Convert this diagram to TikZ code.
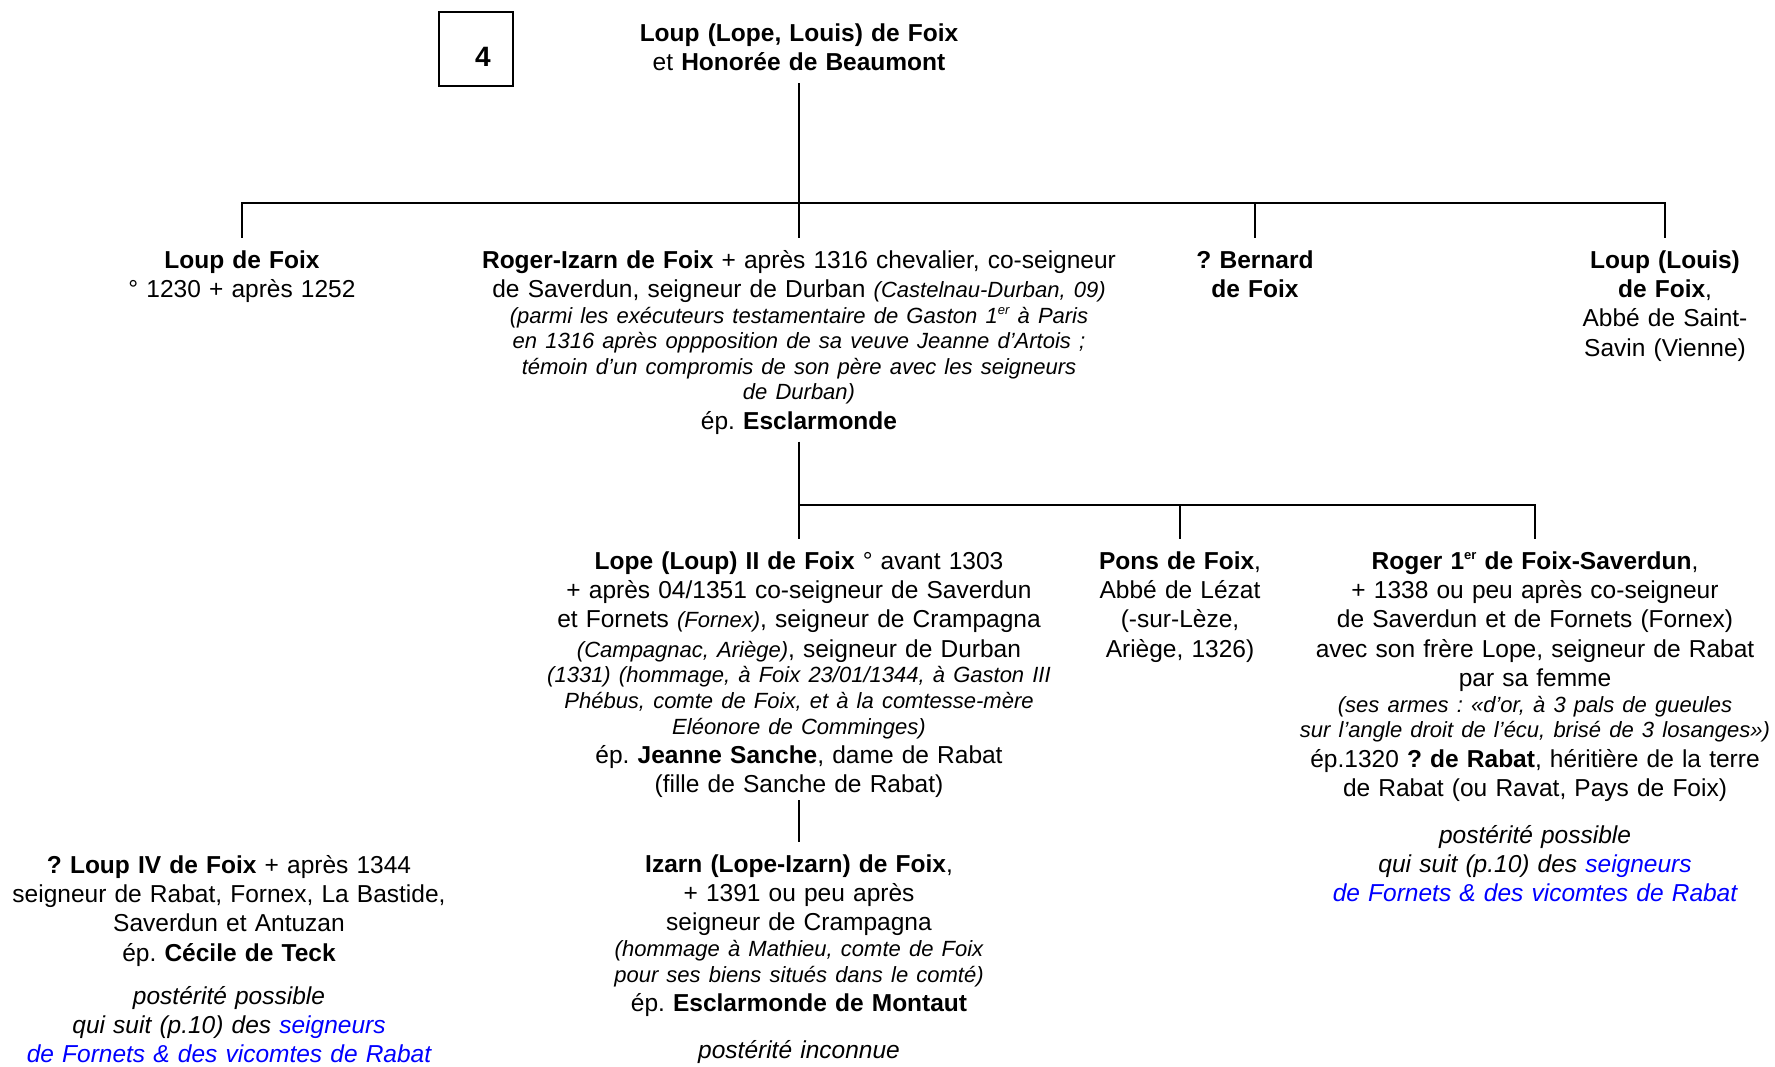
\documentclass[tikz,border=0pt]{standalone}
\usepackage{fontspec}
\setmainfont{Liberation Sans}
\usepackage{xcolor}
\newcommand{\mainsz}{\fontsize{12.25}{14.7}\selectfont\frenchspacing}
\newcommand{\notesz}{\fontsize{11}{12.8}\selectfont\itshape}
\newcommand{\ordsup}[1]{\raisebox{0.75ex}{\fontsize{6.5}{7}\selectfont #1}}
\tikzset{
  person/.style={anchor=base,text width=380pt,align=center,inner xsep=0pt,inner ysep=6pt,font=\mainsz},
  desc/.style={person,font=\mainsz\itshape},
  tree/.style={line width=1.1pt}
}

\begin{document}
\frenchspacing
\begin{tikzpicture}[x=0.5pt,y=-0.5pt]
\useasboundingbox (0,0) rectangle (1775,1066);

\node [draw,line width=0.6pt,minimum width=37pt,minimum height=37pt] (numbox) at (476,49) {};
\node [font=\fontsize{14}{16}\selectfont\bfseries] (num) at ([xshift=3.5pt,yshift=-4pt]numbox.center) {4};

\node [person] (parents) at (799,41) {\textbf{Loup (Lope, Louis) de Foix}\\ et \textbf{Honorée de Beaumont}};

% children
\node [person] (loup) at (242,268) {\textbf{Loup de Foix}\\ ° 1230 + après 1252};
\node [person] (rogerizarn) at (799,268) {\textbf{Roger-Izarn de Foix} + après 1316 chevalier, co-seigneur\\
de Saverdun, seigneur de Durban {\notesz(Castelnau-Durban, 09)}\par
{\notesz(parmi les exécuteurs testamentaire de Gaston 1\ordsup{er} à Paris\\
en 1316 après oppposition de sa veuve Jeanne d’Artois ;\\
témoin d’un compromis de son père avec les seigneurs\\
de Durban)\par}
ép. \textbf{Esclarmonde}};
\node [person] (bernard) at (1255,268) {\textbf{? Bernard}\\ \textbf{de Foix}};
\node [person] (loupabbe) at (1665,268) {\textbf{Loup (Louis)}\\ \textbf{de Foix},\\ Abbé de Saint-\\ Savin (Vienne)};

\coordinate (j0) at (799,203);
\draw [tree] (parents.south) -- (j0);
\draw [tree] (loup.north) -- (loup.north |- j0) -- (loupabbe.north |- j0) -- (loupabbe.north);
\draw [tree] (rogerizarn.north) -- (rogerizarn.north |- j0);
\draw [tree] (bernard.north) -- (bernard.north |- j0);

% grandchildren
\node [person] (lope) at (799,569) {\textbf{Lope (Loup) II de Foix} ° avant 1303\\
+ après 04/1351 co-seigneur de Saverdun\\
et Fornets {\notesz(Fornex)}, seigneur de Crampagna\\
{\notesz(Campagnac, Ariège)}, seigneur de Durban\par
{\notesz(1331) (hommage, à Foix 23/01/1344, à Gaston III\\
Phébus, comte de Foix, et à la comtesse-mère\\
Eléonore de Comminges)\par}
ép. \textbf{Jeanne Sanche}, dame de Rabat\\
(fille de Sanche de Rabat)};
\node [person] (pons) at (1180,569) {\textbf{Pons de Foix},\\ Abbé de Lézat\\ (-sur-Lèze,\\ Ariège, 1326)};
\node [person] (roger) at (1535,569) {\textbf{Roger 1\ordsup{er} de Foix-Saverdun},\\
+ 1338 ou peu après co-seigneur\\
de Saverdun et de Fornets (Fornex)\\
avec son frère Lope, seigneur de Rabat\\
par sa femme\par
{\notesz(ses armes : «d’or, à 3 pals de gueules\\
sur l’angle droit de l’écu, brisé de 3 losanges»)\par}
ép.1320 \textbf{? de Rabat}, héritière de la terre\\
de Rabat (ou Ravat, Pays de Foix)};
\node [desc] (rogerdesc) at (1535,843) {postérité possible\\ qui suit (p.10) des \textcolor{blue}{seigneurs}\\ \textcolor{blue}{de Fornets \& des vicomtes de Rabat}};

\coordinate (j1) at (799,505);
\draw [tree,shorten <=-2.5pt] (rogerizarn.south) -- (j1);
\draw [tree] (lope.north) -- (lope.north |- j1) -- (roger.north |- j1) -- (roger.north);
\draw [tree] (pons.north) -- (pons.north |- j1);

% next generation
\node [person] (izarn) at (799,872) {\textbf{Izarn (Lope-Izarn) de Foix},\\
+ 1391 ou peu après\\
seigneur de Crampagna\par
{\notesz(hommage à Mathieu, comte de Foix\\
pour ses biens situés dans le comté)\par}
ép. \textbf{Esclarmonde de Montaut}};
\node [desc] (izarndesc) at (799,1058) {postérité inconnue};
\draw [tree,shorten <=-5pt] (lope.south) -- (izarn.north);

\node [person] (loupiv) at (229,873) {\textbf{? Loup IV de Foix} + après 1344\\
seigneur de Rabat, Fornex, La Bastide,\\
Saverdun et Antuzan\\
ép. \textbf{Cécile de Teck}};
\node [desc] (loupivdesc) at (229,1004) {postérité possible\\ qui suit (p.10) des \textcolor{blue}{seigneurs}\\ \textcolor{blue}{de Fornets \& des vicomtes de Rabat}};
\end{tikzpicture}
\end{document}
